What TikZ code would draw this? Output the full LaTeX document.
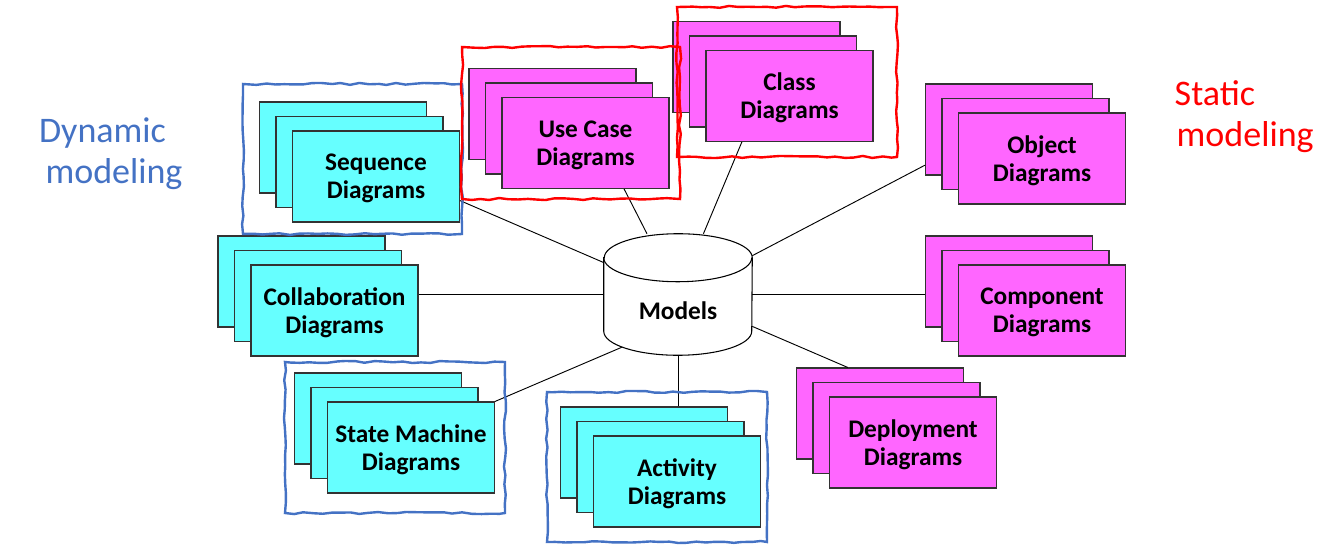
\documentclass[tikz,border=0pt]{standalone}
\usepackage{fontspec}
\setmainfont{Carlito}
\usepackage{tikz}
\usetikzlibrary{decorations.pathmorphing}
\definecolor{dyncyan}{HTML}{66FFFF}
\definecolor{statpink}{HTML}{FF66FF}
\definecolor{dynblue}{HTML}{4472C4}
\definecolor{sheetline}{HTML}{333333}

\begin{document}
\begin{tikzpicture}[x=0.75pt, y=-0.75pt,
		sheet/.style={draw=sheetline, line width=0.8pt, minimum width=125.25pt, minimum height=68.25pt, inner sep=0pt, align=center, text depth=0pt, font=\bfseries\fontsize{19}{21}\selectfont},
		dynsheet/.style={sheet, fill=dyncyan},
		statsheet/.style={sheet, fill=statpink},
		link/.style={draw=black, line width=0.7pt},
		dynframe/.style={draw=dynblue, line width=1.8pt, decorate, decoration={random steps, segment length=7pt, amplitude=0.8pt}},
		statframe/.style={dynframe, draw=red},
		sidelabel/.style={font=\fontsize{27}{32}\selectfont, anchor=base}]

		\useasboundingbox (0,0) rectangle (1344,552);
		\pgfmathsetseed{11}

		% side texts
		\node[sidelabel, text=dynblue] (dyn1) at (102.5,142.3) {Dynamic};
		\node[sidelabel, text=dynblue] (dyn2) at (114,184) {modeling};
		\node[sidelabel, text=red, anchor=base west] (stat1) at (1170,106) {Static};
		\node[sidelabel, text=red, anchor=base west] (stat2) at (1172,147) {modeling};

		% the repository (outline drawn round the node)
		\node[minimum width=111pt, minimum height=90.75pt, inner sep=0pt] (models) at (678,294.5) {};
		\draw[fill=white, line width=0.8pt] ([yshift=-18pt]models.north west) -- ([yshift=18pt]models.south west)
			arc[start angle=180, end angle=360, x radius=55.5pt, y radius=18pt]
			-- ([yshift=-18pt]models.north east)
			arc[start angle=0, end angle=180, x radius=55.5pt, y radius=18pt] -- cycle;
		\draw[line width=0.8pt] ([yshift=-18pt]models.north west)
			arc[start angle=180, end angle=360, x radius=55.5pt, y radius=18pt];
		\node[font=\bfseries\fontsize{19}{21}\selectfont] (modelslabel) at (678,311) {Models};

		% dynamic stacks
		\node[dynsheet] (seqb) at (343,147.5) {};
		\node[dynsheet] (seqm) at (359.5,162) {};
		\node[dynsheet] (seq) at (376,176.5) {Sequence\\Diagrams};

		\node[dynsheet] (colb) at (301.5,281.5) {};
		\node[dynsheet] (colm) at (318,296) {};
		\node[dynsheet] (col) at (334.5,310.5) {Collaboration\\Diagrams};

		\node[dynsheet] (smb) at (378,418.5) {};
		\node[dynsheet] (smm) at (394.5,433) {};
		\node[dynsheet] (sm) at (411,447.5) {State Machine\\Diagrams};

		\node[dynsheet] (actb) at (644,452.5) {};
		\node[dynsheet] (actm) at (660.5,467) {};
		\node[dynsheet] (act) at (677,481.5) {Activity\\Diagrams};

		% static stacks
		\node[statsheet] (ucb) at (552.5,114) {};
		\node[statsheet] (ucm) at (569,128.5) {};
		\node[statsheet] (uc) at (585.5,143) {Use Case\\Diagrams};

		\node[statsheet] (clsb) at (756.5,67) {};
		\node[statsheet] (clsm) at (773,81.5) {};
		\node[statsheet] (cls) at (789.5,96) {Class\\Diagrams};

		\node[statsheet] (objb) at (1009,129.5) {};
		\node[statsheet] (objm) at (1025.5,144) {};
		\node[statsheet] (obj) at (1042,158.5) {Object\\Diagrams};

		\node[statsheet] (compb) at (1009,281.5) {};
		\node[statsheet] (compm) at (1025.5,296) {};
		\node[statsheet] (comp) at (1042,310.5) {Component\\Diagrams};

		\node[statsheet] (depb) at (880,413.5) {};
		\node[statsheet] (depm) at (896.5,428) {};
		\node[statsheet] (dep) at (913,442.5) {Deployment\\Diagrams};

		% links to the repository
		\draw[link] (seq.-16) -- (models);
		\draw[link] (uc.-50) -- (models);
		\draw[link] (cls.-136) -- (models);
		\draw[link] (objb.-157) -- (models);
		\draw[link] (col.east |- models.center) -- (models);
		\draw[link] (compb.west |- models.center) -- (models);
		\draw[link] (sm.north east) -- ([xshift=13.5pt, yshift=6pt]models.south west);
		\draw[link] (models.center |- actb.north) -- (models);
		\draw[link] (depb.125) -- (models);

		% hand drawn frames
		\draw[dynframe] (243,84) rectangle (462,234);
		\draw[dynframe] (285,362) rectangle (505,513);
		\draw[dynframe] (547,392) rectangle (767,542);
		\draw[statframe] (462,47) rectangle (680,199);
		\draw[statframe] (677,7) rectangle (897,157);

	\end{tikzpicture}
\end{document}
